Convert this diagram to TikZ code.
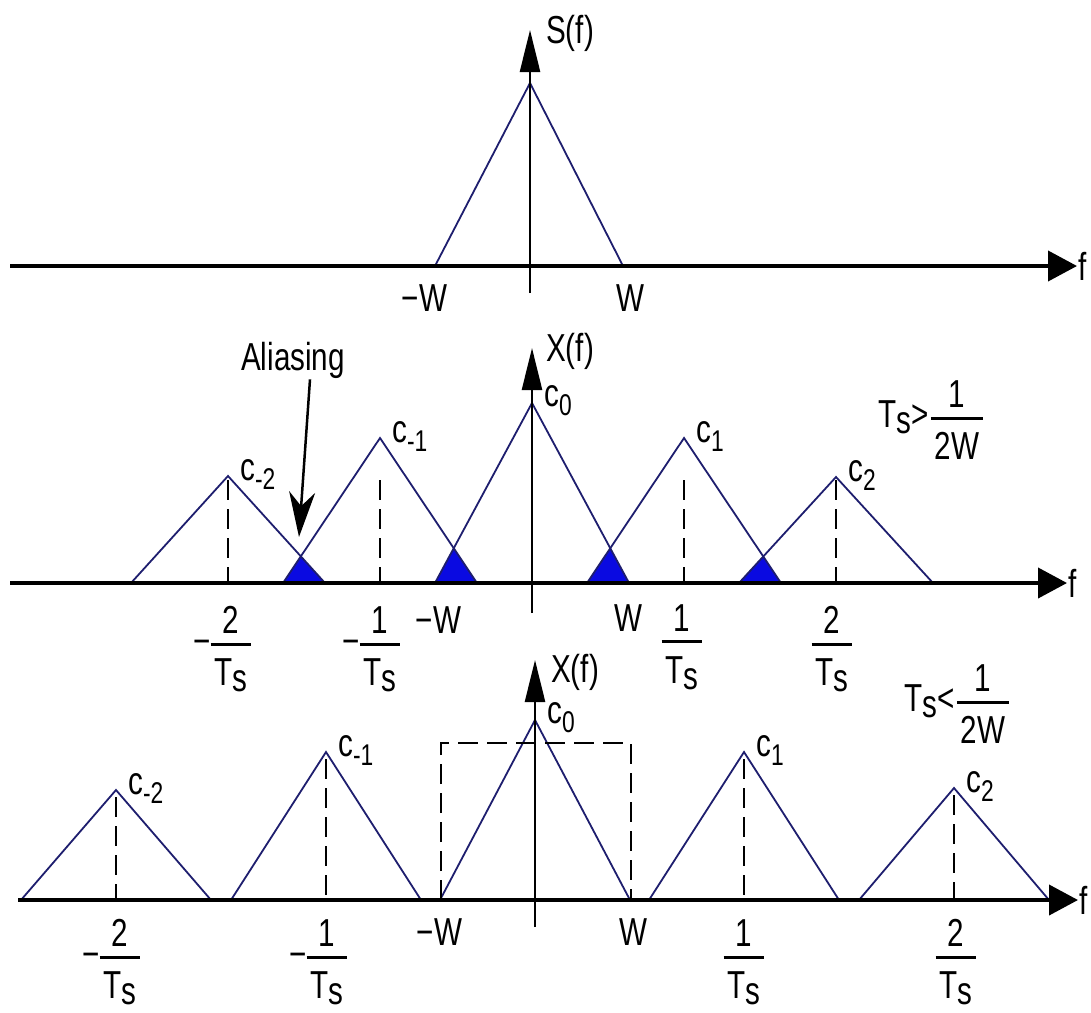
\documentclass[tikz,border=0pt]{standalone}
\usepackage{fontspec}
\setmainfont{Liberation Sans}[FakeStretch=0.76]
\usetikzlibrary{arrows.meta}

\definecolor{specline}{RGB}{30,30,110}
\definecolor{aliasfill}{RGB}{10,10,225}

\newcommand{\Ts}{T\raisebox{-6pt}{s}}
\newcommand{\csub}[1]{c\raisebox{-9pt}{\fontsize{30}{30}\selectfont #1}}
\newcommand{\fr}[2]{\begin{tabular}[t]{@{\hspace{4pt}}c@{\hspace{4pt}}}#1\\[-6pt]\noalign{\hrule height 3pt}\rule{0pt}{40pt}#2\\[-12pt]\end{tabular}}
\newcommand{\negfr}[2]{\llap{\raisebox{-21pt}{−}}\fr{#1}{#2}}

\tikzset{
  axis/.style={line width=4pt, -{Triangle[length=29pt,width=30pt]}},
  vaxis/.style={line width=2.5pt, -{Triangle[length=42pt,width=20pt]}},
  spec/.style={specline, line width=1.8pt},
  guide/.style={line width=2.5pt, dash pattern=on 20pt off 9pt},
  overlap/.style={fill=aliasfill},
  pointer/.style={line width=2.5pt, -{Stealth[length=45pt,width=26pt,inset=14pt]}},
}

\begin{document}
\begin{tikzpicture}[x=1pt, y=1pt, font=\fontsize{39}{50}\selectfont, every node/.style={inner sep=1pt}]
\useasboundingbox (0,0) rectangle (1091,-1012);

% top: spectrum of the signal
\begin{scope}[shift={(530,-266)}]
  \draw[spec] (-95,0) -- (0,183) -- (93,0);
  \coordinate (h1a) at (-520,0); \coordinate (h1b) at (547,0);
  \coordinate (v1a) at (0,-27); \coordinate (v1b) at (0,236);
  \draw[axis] (h1a) -- (h1b);
  \draw[vaxis] (v1a) -- (v1b);
  \node[anchor=west] (f1) at (h1b) {f};
  \node (S) at (40,233) {S(f)};
  \node (mw1) at (-97,-32) {\llap{−}W};
  \node (w1) at (100,-32) {W};
\end{scope}

% middle: undersampled, copies overlap
\begin{scope}[shift={(532,-583)}]
  \foreach \a/\ha/\b/\hb in {-304/107/-152/145,-152/145/0/180,0/180/152/145,152/145/304/106}{
    \begin{scope}
      \clip ({\a-97},0) -- (\a,\ha) -- ({\a+97},0) -- cycle;
      \fill[overlap] ({\b-97},0) -- (\b,\hb) -- ({\b+97},0) -- cycle;
    \end{scope}
  }
  \foreach \cx/\h/\k/\nm in {-304/107/-2/m2,-152/145/-1/m1,0/180/0/z,152/145/1/p1,304/106/2/p2}{
    \draw[spec] ({\cx-97},0) -- (\cx,\h) -- ({\cx+97},0);
    \node[anchor=west] (b\nm) at ({\cx+11},{\h+2}) {\csub{\k}};
  }
  \foreach \cx in {-304,-152,152,304}
    \draw[guide] (\cx,103) -- (\cx,0);
  \coordinate (h2a) at (-522,0); \coordinate (h2b) at (535,0);
  \coordinate (v2a) at (0,-30); \coordinate (v2b) at (0,235);
  \draw[axis] (h2a) -- (h2b);
  \draw[vaxis] (v2a) -- (v2b);
  \node[anchor=west] (f2) at (h2b) {f};
  \node (X2) at (38,232) {X(f)};
  \node (alias) at (-239,223) {Aliasing};
  \coordinate (x12) at (-233,46);
  \draw[pointer] ([xshift=17pt]alias.south) -- (x12);
  \node (bm2t) at (-301,-60.5) {\negfr{2}{\Ts}};
  \node (bm1t) at (-152,-60.5) {\negfr{1}{\Ts}};
  \node (bp1t) at (150,-58) {\fr{1}{\Ts}};
  \node (bp2t) at (300,-60.5) {\fr{2}{\Ts}};
  \node (mw2) at (-85,-37) {\llap{−}W};
  \node (w2) at (96,-35) {W};
  \node (cond2) at (399,165.5) {\Ts>\hspace{2pt}\raisebox{19.5pt}{\fr{1}{2W}}};
\end{scope}

% bottom: oversampled, copies apart
\begin{scope}[shift={(535,-900)}]
  \foreach \cx/\h/\k/\nm in {-419/110/-2/m2,-209/148/-1/m1,0/180/0/z,209/148/1/p1,419/112/2/p2}{
    \draw[spec] ({\cx-95},0) -- (\cx,\h) -- ({\cx+95},0);
    \node[anchor=west] (d\nm) at ({\cx+11},{\h+2}) {\csub{\k}};
  }
  \draw[guide] (-209,141) -- (-209,0);
  \draw[guide] (-419,103) -- (-419,0);
  \draw[guide] (209,141) -- (209,0);
  \draw[guide] (419,105) -- (419,0);
  \draw[guide] (-94,0) |- (96,157) -- (96,0);
  \coordinate (h3a) at (-517,0); \coordinate (h3b) at (543,0);
  \coordinate (v3a) at (0,-27); \coordinate (v3b) at (0,240);
  \draw[axis] (h3a) -- (h3b);
  \draw[vaxis] (v3a) -- (v3b);
  \node[anchor=west] (f3) at (h3b) {f};
  \node (X3) at (40,228) {X(f)};
  \node (dm2t) at (-415,-56.5) {\negfr{2}{\Ts}};
  \node (dm1t) at (-208,-56.5) {\negfr{1}{\Ts}};
  \node (dp1t) at (209,-56.5) {\fr{1}{\Ts}};
  \node (dp2t) at (421,-56.5) {\fr{2}{\Ts}};
  \node (mw3) at (-87,-32) {\llap{−}W};
  \node (w3) at (98,-32) {W};
  \node (cond3) at (422,198.5) {\Ts<\hspace{2pt}\raisebox{19.5pt}{\fr{1}{2W}}};
\end{scope}
\end{tikzpicture}
\end{document}
